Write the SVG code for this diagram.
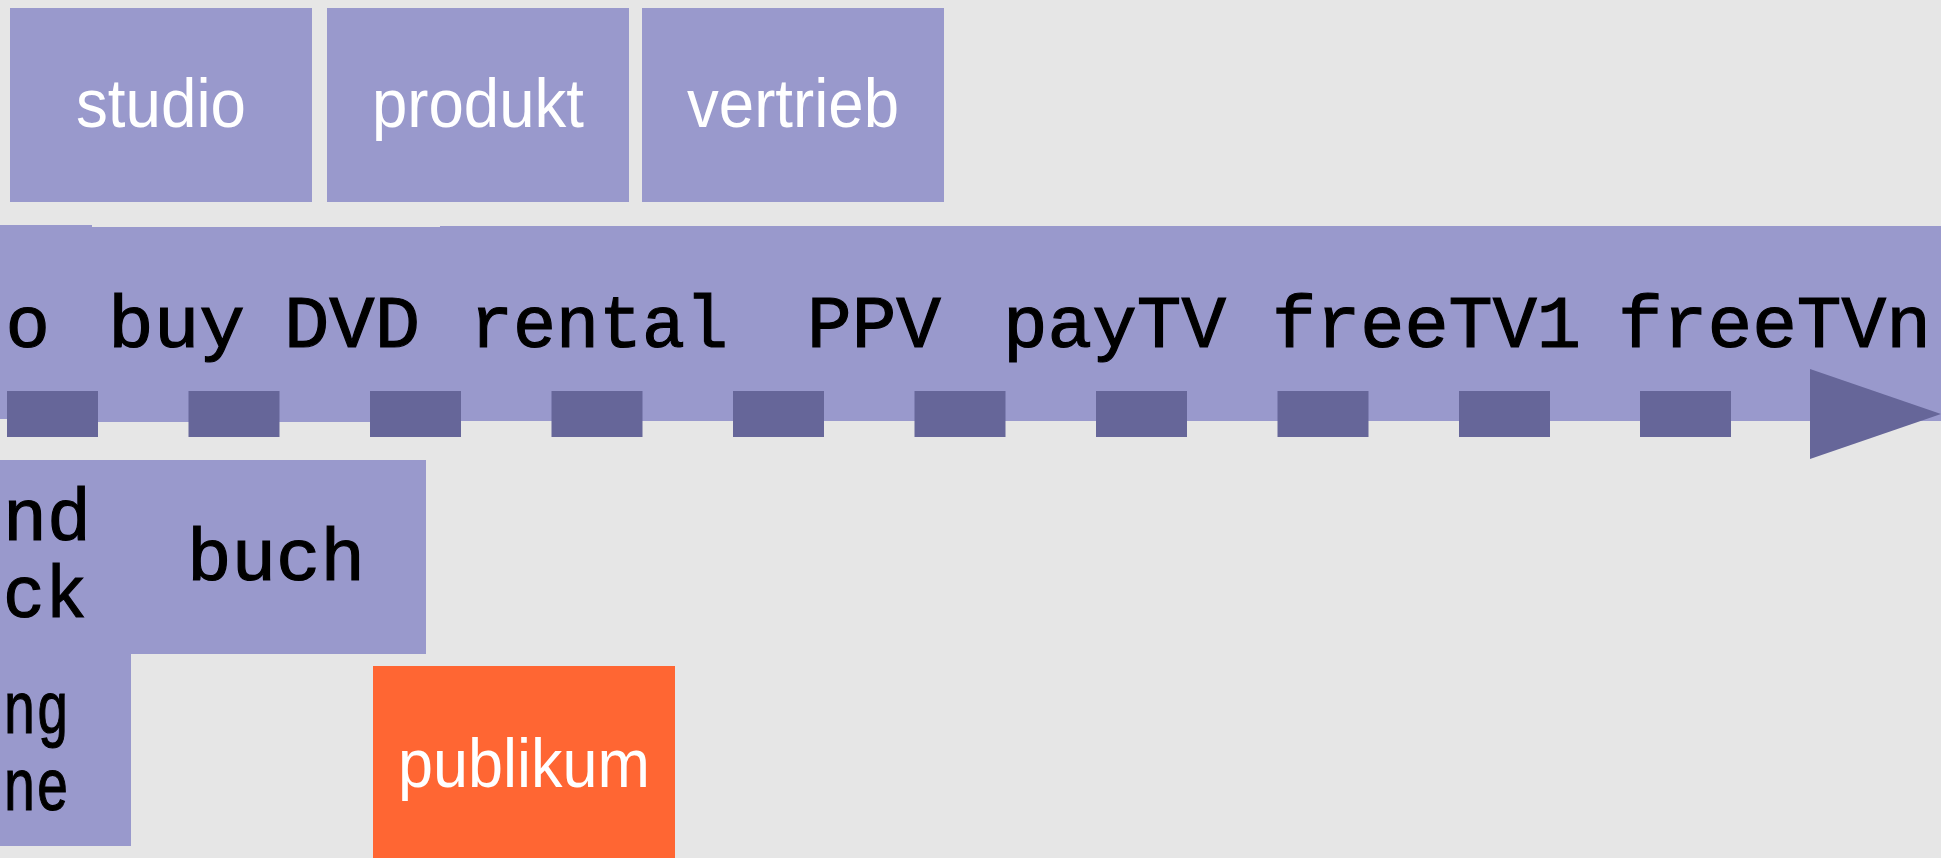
<svg xmlns="http://www.w3.org/2000/svg" width="1941" height="858" viewBox="0 0 1941 858">
<style>
.box{fill:#9999cc}
.dark{fill:#666699}
.orange{fill:#ff6633}
.lbl{font-family:"Liberation Sans",Arial,sans-serif;font-size:68px;fill:#ffffff;text-anchor:middle}
.dot{font-family:"Liberation Mono","Courier New",monospace;font-size:74px;fill:#000000;stroke:#000000;stroke-width:1.2}
</style>
<rect x="0" y="0" width="1941" height="858" fill="#e6e6e6"/>
<g id="studio"><rect class="box" x="10" y="8" width="302" height="194"/><text class="lbl" x="161" y="127" textLength="170" lengthAdjust="spacingAndGlyphs">studio</text></g>
<g id="produkt"><rect class="box" x="327" y="8" width="302" height="194"/><text class="lbl" x="478" y="127" textLength="212" lengthAdjust="spacingAndGlyphs">produkt</text></g>
<g id="vertrieb"><rect class="box" x="642" y="8" width="302" height="194"/><text class="lbl" x="793" y="127" textLength="212" lengthAdjust="spacingAndGlyphs">vertrieb</text></g>
<g id="band-left"><rect class="box" x="-220" y="225" width="312" height="194"/><text class="dot" x="50" y="347" text-anchor="end">o</text></g>
<g id="band-buy-dvd"><rect class="box" x="92" y="227" width="348" height="195"/>
<text class="dot" x="108" y="347" textLength="137" lengthAdjust="spacingAndGlyphs">buy</text>
<text class="dot" x="284" y="347" textLength="136" lengthAdjust="spacingAndGlyphs">DVD</text></g>
<g id="band-main"><rect class="box" x="440" y="226" width="1510" height="195"/>
<text class="dot" x="470" y="347" textLength="258" lengthAdjust="spacingAndGlyphs">rental</text>
<text class="dot" x="807" y="347" textLength="134" lengthAdjust="spacingAndGlyphs">PPV</text>
<text class="dot" x="1003" y="347" textLength="223" lengthAdjust="spacingAndGlyphs">payTV</text>
<text class="dot" x="1272" y="347" textLength="309" lengthAdjust="spacingAndGlyphs">freeTV1</text>
<text class="dot" x="1618" y="347" textLength="313" lengthAdjust="spacingAndGlyphs">freeTVn</text></g>
<g id="connectors">
<rect class="dark" x="7" y="391" width="91" height="46"/>
<rect class="dark" x="188.5" y="391" width="91" height="46"/>
<rect class="dark" x="370" y="391" width="91" height="46"/>
<rect class="dark" x="551.5" y="391" width="91" height="46"/>
<rect class="dark" x="733" y="391" width="91" height="46"/>
<rect class="dark" x="914.5" y="391" width="91" height="46"/>
<rect class="dark" x="1096" y="391" width="91" height="46"/>
<rect class="dark" x="1277.5" y="391" width="91" height="46"/>
<rect class="dark" x="1459" y="391" width="91" height="46"/>
<rect class="dark" x="1640" y="391" width="91" height="46"/>
<polygon class="dark" points="1810,369 1941,414 1810,459"/>
</g>
<g id="soundtrack"><rect class="box" x="-170" y="460" width="301" height="194"/>
<text class="dot" x="3" y="540" textLength="88" lengthAdjust="spacingAndGlyphs">nd</text>
<text class="dot" x="3" y="617" textLength="84" lengthAdjust="spacingAndGlyphs">ck</text></g>
<g id="buch"><rect class="box" x="124" y="460" width="302" height="194"/>
<text class="dot" x="187" y="580" textLength="178" lengthAdjust="spacingAndGlyphs">buch</text></g>
<g id="lower-left"><rect class="box" x="-170" y="654" width="301" height="192"/>
<text class="dot" x="3" y="733" textLength="66" lengthAdjust="spacingAndGlyphs">ng</text>
<text class="dot" x="3" y="810" textLength="66" lengthAdjust="spacingAndGlyphs">ne</text></g>
<g id="publikum"><rect class="orange" x="373" y="666" width="302" height="194"/><text class="lbl" x="524" y="787" textLength="252" lengthAdjust="spacingAndGlyphs">publikum</text></g>
</svg>
